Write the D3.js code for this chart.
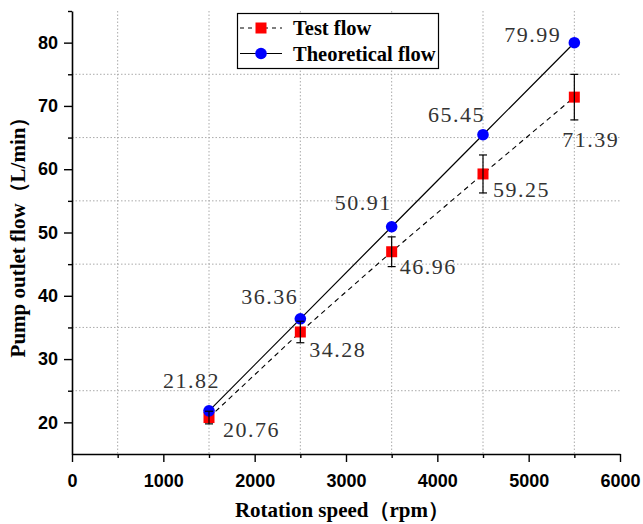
<!DOCTYPE html>
<html>
<head>
<meta charset="utf-8">
<script src="https://cdn.jsdelivr.net/npm/d3@7"></script>
<style>
  body { margin: 0; background: #fff; }
  svg { display: block; }
</style>
</head>
<body>
<script>
// data
var speeds      = [1500, 2500, 3500, 4500, 5500];
var testFlow    = [20.76, 34.28, 46.96, 59.25, 71.39];
var testErr     = [1.0, 1.7, 2.35, 3.0, 3.6];
var theoFlow    = [21.82, 36.36, 50.91, 65.45, 79.99];
var xTicks      = [0, 1000, 2000, 3000, 4000, 5000, 6000];
var xMinor      = [500, 1500, 2500, 3500, 4500, 5500];
var yTicks      = [20, 30, 40, 50, 60, 70, 80];
var yMinor      = [25, 35, 45, 55, 65, 75, 85];
var seriesNames = ['Test flow', 'Theoretical flow'];

// label nudges (px) relative to each point
var theoLabelOff = [[-46, -23], [-59, -15], [-57, -17], [-55, -13], [-70, -1]];
var testLabelOff = [[14, 19], [9, 25], [8, 22], [10, 23], [-12, 50]];

var width  = 643;
var height = 524;

var x = d3.scaleLinear().domain([0, 6000]).range([72, 620]);
var y = d3.scaleLinear().domain([15, 85]).range([454, 11]);

var svg = d3.select('body').append('svg')
	.attr('width', width)
	.attr('height', height);

// grid on the minor ticks
svg.append('g').selectAll('line')
	.data(xMinor)
	.enter().append('line')
		.attr('x1', function(d) { return x(d); })
		.attr('x2', function(d) { return x(d); })
		.attr('y1', y(85))
		.attr('y2', y(15))
		.attr('stroke', '#aaa')
		.attr('stroke-dasharray', '1.5,2');

svg.append('g').selectAll('line')
	.data(yMinor.slice(0, -1))
	.enter().append('line')
		.attr('x1', x(0))
		.attr('x2', x(6000))
		.attr('y1', function(d) { return y(d); })
		.attr('y2', function(d) { return y(d); })
		.attr('stroke', '#aaa')
		.attr('stroke-dasharray', '1.5,2');

// axes
var tickFont = 'bold 18px "Liberation Sans", Arial, sans-serif';

var xAxis = svg.append('g')
	.attr('transform', 'translate(0,' + y(15) + ')')
	.call(d3.axisBottom(x).tickValues(xTicks).tickFormat(d3.format('d'))
		.tickSize(8).tickSizeOuter(0).tickPadding(4));
svg.append('g')
	.attr('transform', 'translate(0,' + y(15) + ')')
	.call(d3.axisBottom(x).tickValues(xMinor).tickSize(4).tickSizeOuter(0).tickFormat(''))
	.select('.domain').remove();

var yAxis = svg.append('g')
	.attr('transform', 'translate(' + x(0) + ',0)')
	.call(d3.axisLeft(y).tickValues(yTicks).tickSize(8).tickSizeOuter(0).tickPadding(6));
svg.append('g')
	.attr('transform', 'translate(' + x(0) + ',0)')
	.call(d3.axisLeft(y).tickValues(yMinor).tickSize(4).tickSizeOuter(0).tickFormat(''))
	.select('.domain').remove();

svg.selectAll('.domain').attr('stroke', '#000').attr('stroke-width', 1.6);
svg.selectAll('.tick line').attr('stroke', '#000').attr('stroke-width', 1.4);
svg.selectAll('.tick text')
	.style('font', tickFont)
	.attr('fill', '#000');
xAxis.selectAll('.tick text').attr('y', 20);

// axis titles
var titleFont = 'bold 21px "Liberation Serif", "Times New Roman", serif';
svg.append('text')
	.attr('x', 342)
	.attr('y', 517)
	.attr('text-anchor', 'middle')
	.style('font', titleFont)
	.text('Rotation speed（rpm）');

svg.append('text')
	.attr('transform', 'translate(25,232) rotate(-90)')
	.attr('text-anchor', 'middle')
	.style('font', titleFont)
	.text('Pump outlet flow（L/min）');

// lines
var testPts = speeds.map(function(s, i) { return [s, testFlow[i]]; });
var theoPts = speeds.map(function(s, i) { return [s, theoFlow[i]]; });
var line = d3.line()
	.x(function(d) { return x(d[0]); })
	.y(function(d) { return y(d[1]); });

svg.append('path')
	.datum(testPts)
	.attr('d', line)
	.attr('fill', 'none')
	.attr('stroke', '#000')
	.attr('stroke-width', 1.1)
	.attr('stroke-dasharray', '5,4');

svg.append('path')
	.datum(theoPts)
	.attr('d', line)
	.attr('fill', 'none')
	.attr('stroke', '#000')
	.attr('stroke-width', 1.2);

// markers
svg.append('g').selectAll('rect')
	.data(testPts)
	.enter().append('rect')
		.attr('x', function(d) { return x(d[0]) - 5.5; })
		.attr('y', function(d) { return y(d[1]) - 5.5; })
		.attr('width', 11)
		.attr('height', 11)
		.attr('fill', '#ff0000');

svg.append('g').selectAll('circle')
	.data(theoPts)
	.enter().append('circle')
		.attr('cx', function(d) { return x(d[0]); })
		.attr('cy', function(d) { return y(d[1]); })
		.attr('r', 5.8)
		.attr('fill', '#0000ff');

// error bars on the test flow
var eb = svg.append('g').selectAll('g')
	.data(testPts)
	.enter().append('g')
		.attr('stroke', '#000')
		.attr('stroke-width', 1.2);
eb.append('line')
	.attr('x1', function(d) { return x(d[0]); })
	.attr('x2', function(d) { return x(d[0]); })
	.attr('y1', function(d, i) { return y(d[1] + testErr[i]); })
	.attr('y2', function(d, i) { return y(d[1] - testErr[i]); });
eb.append('line')
	.attr('x1', function(d) { return x(d[0]) - 4; })
	.attr('x2', function(d) { return x(d[0]) + 4; })
	.attr('y1', function(d, i) { return y(d[1] + testErr[i]); })
	.attr('y2', function(d, i) { return y(d[1] + testErr[i]); });
eb.append('line')
	.attr('x1', function(d) { return x(d[0]) - 4; })
	.attr('x2', function(d) { return x(d[0]) + 4; })
	.attr('y1', function(d, i) { return y(d[1] - testErr[i]); })
	.attr('y2', function(d, i) { return y(d[1] - testErr[i]); });

// value labels
var labelFont = '22px "Liberation Serif", "Times New Roman", serif';
svg.append('g').selectAll('text')
	.data(theoPts)
	.enter().append('text')
		.attr('x', function(d, i) { return x(d[0]) + theoLabelOff[i][0]; })
		.attr('y', function(d, i) { return y(d[1]) + theoLabelOff[i][1]; })
		.style('font', labelFont)
		.style('letter-spacing', '1.5px')
		.attr('fill', '#333')
		.text(function(d) { return d[1].toFixed(2); });

svg.append('g').selectAll('text')
	.data(testPts)
	.enter().append('text')
		.attr('x', function(d, i) { return x(d[0]) + testLabelOff[i][0]; })
		.attr('y', function(d, i) { return y(d[1]) + testLabelOff[i][1]; })
		.style('font', labelFont)
		.style('letter-spacing', '1.5px')
		.attr('fill', '#333')
		.text(function(d) { return d[1].toFixed(2); });

// legend
var legend = svg.append('g');
legend.append('rect')
	.attr('x', 237.5)
	.attr('y', 13.5)
	.attr('width', 201)
	.attr('height', 55)
	.attr('fill', '#fff')
	.attr('stroke', '#000')
	.attr('stroke-width', 1.2);

var rows = legend.selectAll('g.row')
	.data(seriesNames)
	.enter().append('g')
		.attr('class', 'row')
		.attr('transform', function(d, i) { return 'translate(0,' + (28 + i * 25.5) + ')'; });

rows.append('line')
	.attr('x1', 240)
	.attr('x2', 282)
	.attr('stroke', '#000')
	.attr('stroke-width', 1.1)
	.attr('stroke-dasharray', function(d, i) { return i === 0 ? '4,4' : null; });

rows.filter(function(d, i) { return i === 0; }).append('rect')
	.attr('x', 255.5).attr('y', -5.5)
	.attr('width', 11).attr('height', 11)
	.attr('fill', '#ff0000');
rows.filter(function(d, i) { return i === 1; }).append('circle')
	.attr('cx', 261).attr('cy', 0)
	.attr('r', 5.8)
	.attr('fill', '#0000ff');

rows.append('text')
	.attr('x', 293)
	.attr('y', 7)
	.style('font', 'bold 20.5px "Liberation Serif", "Times New Roman", serif')
	.text(function(d) { return d; });
</script>
</body>
</html>
